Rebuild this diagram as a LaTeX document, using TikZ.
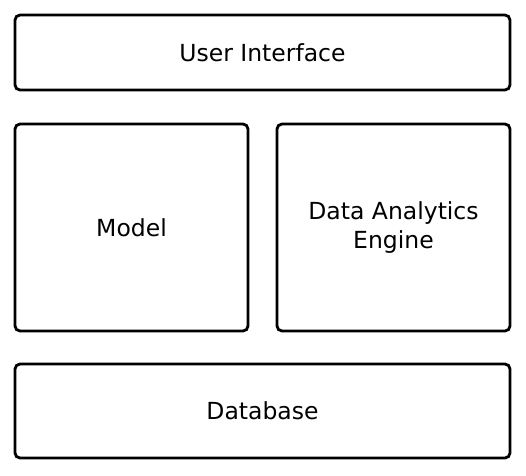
\documentclass[tikz,border=0pt]{standalone}
\usepackage{fontspec}
\setmainfont{DejaVu Sans}
\usetikzlibrary{positioning}
\tikzstyle{block}=[rectangle,draw,line width=2.8pt,rounded corners=5pt,align=center,font=\fontsize{23.5}{29}\selectfont]
\tikzstyle{wide}=[block,minimum width=495pt]
\tikzstyle{half}=[block,minimum width=233pt,minimum height=207pt]

\begin{document}
\begin{tikzpicture}
\useasboundingbox (0,0) rectangle (526pt,-475pt);
\node[wide, minimum height=75pt] (ui) at (262.5pt,-52.5pt) {User Interface};
\node[half, below=31.2pt of ui.south west, anchor=north west] (model) {Model};
\node[half, below=31.2pt of ui.south east, anchor=north east] (engine) {Data Analytics\\Engine};
\node[wide, minimum height=94pt, below=30.2pt of model.south west, anchor=north west] (db) {Database};
\end{tikzpicture}
\end{document}
